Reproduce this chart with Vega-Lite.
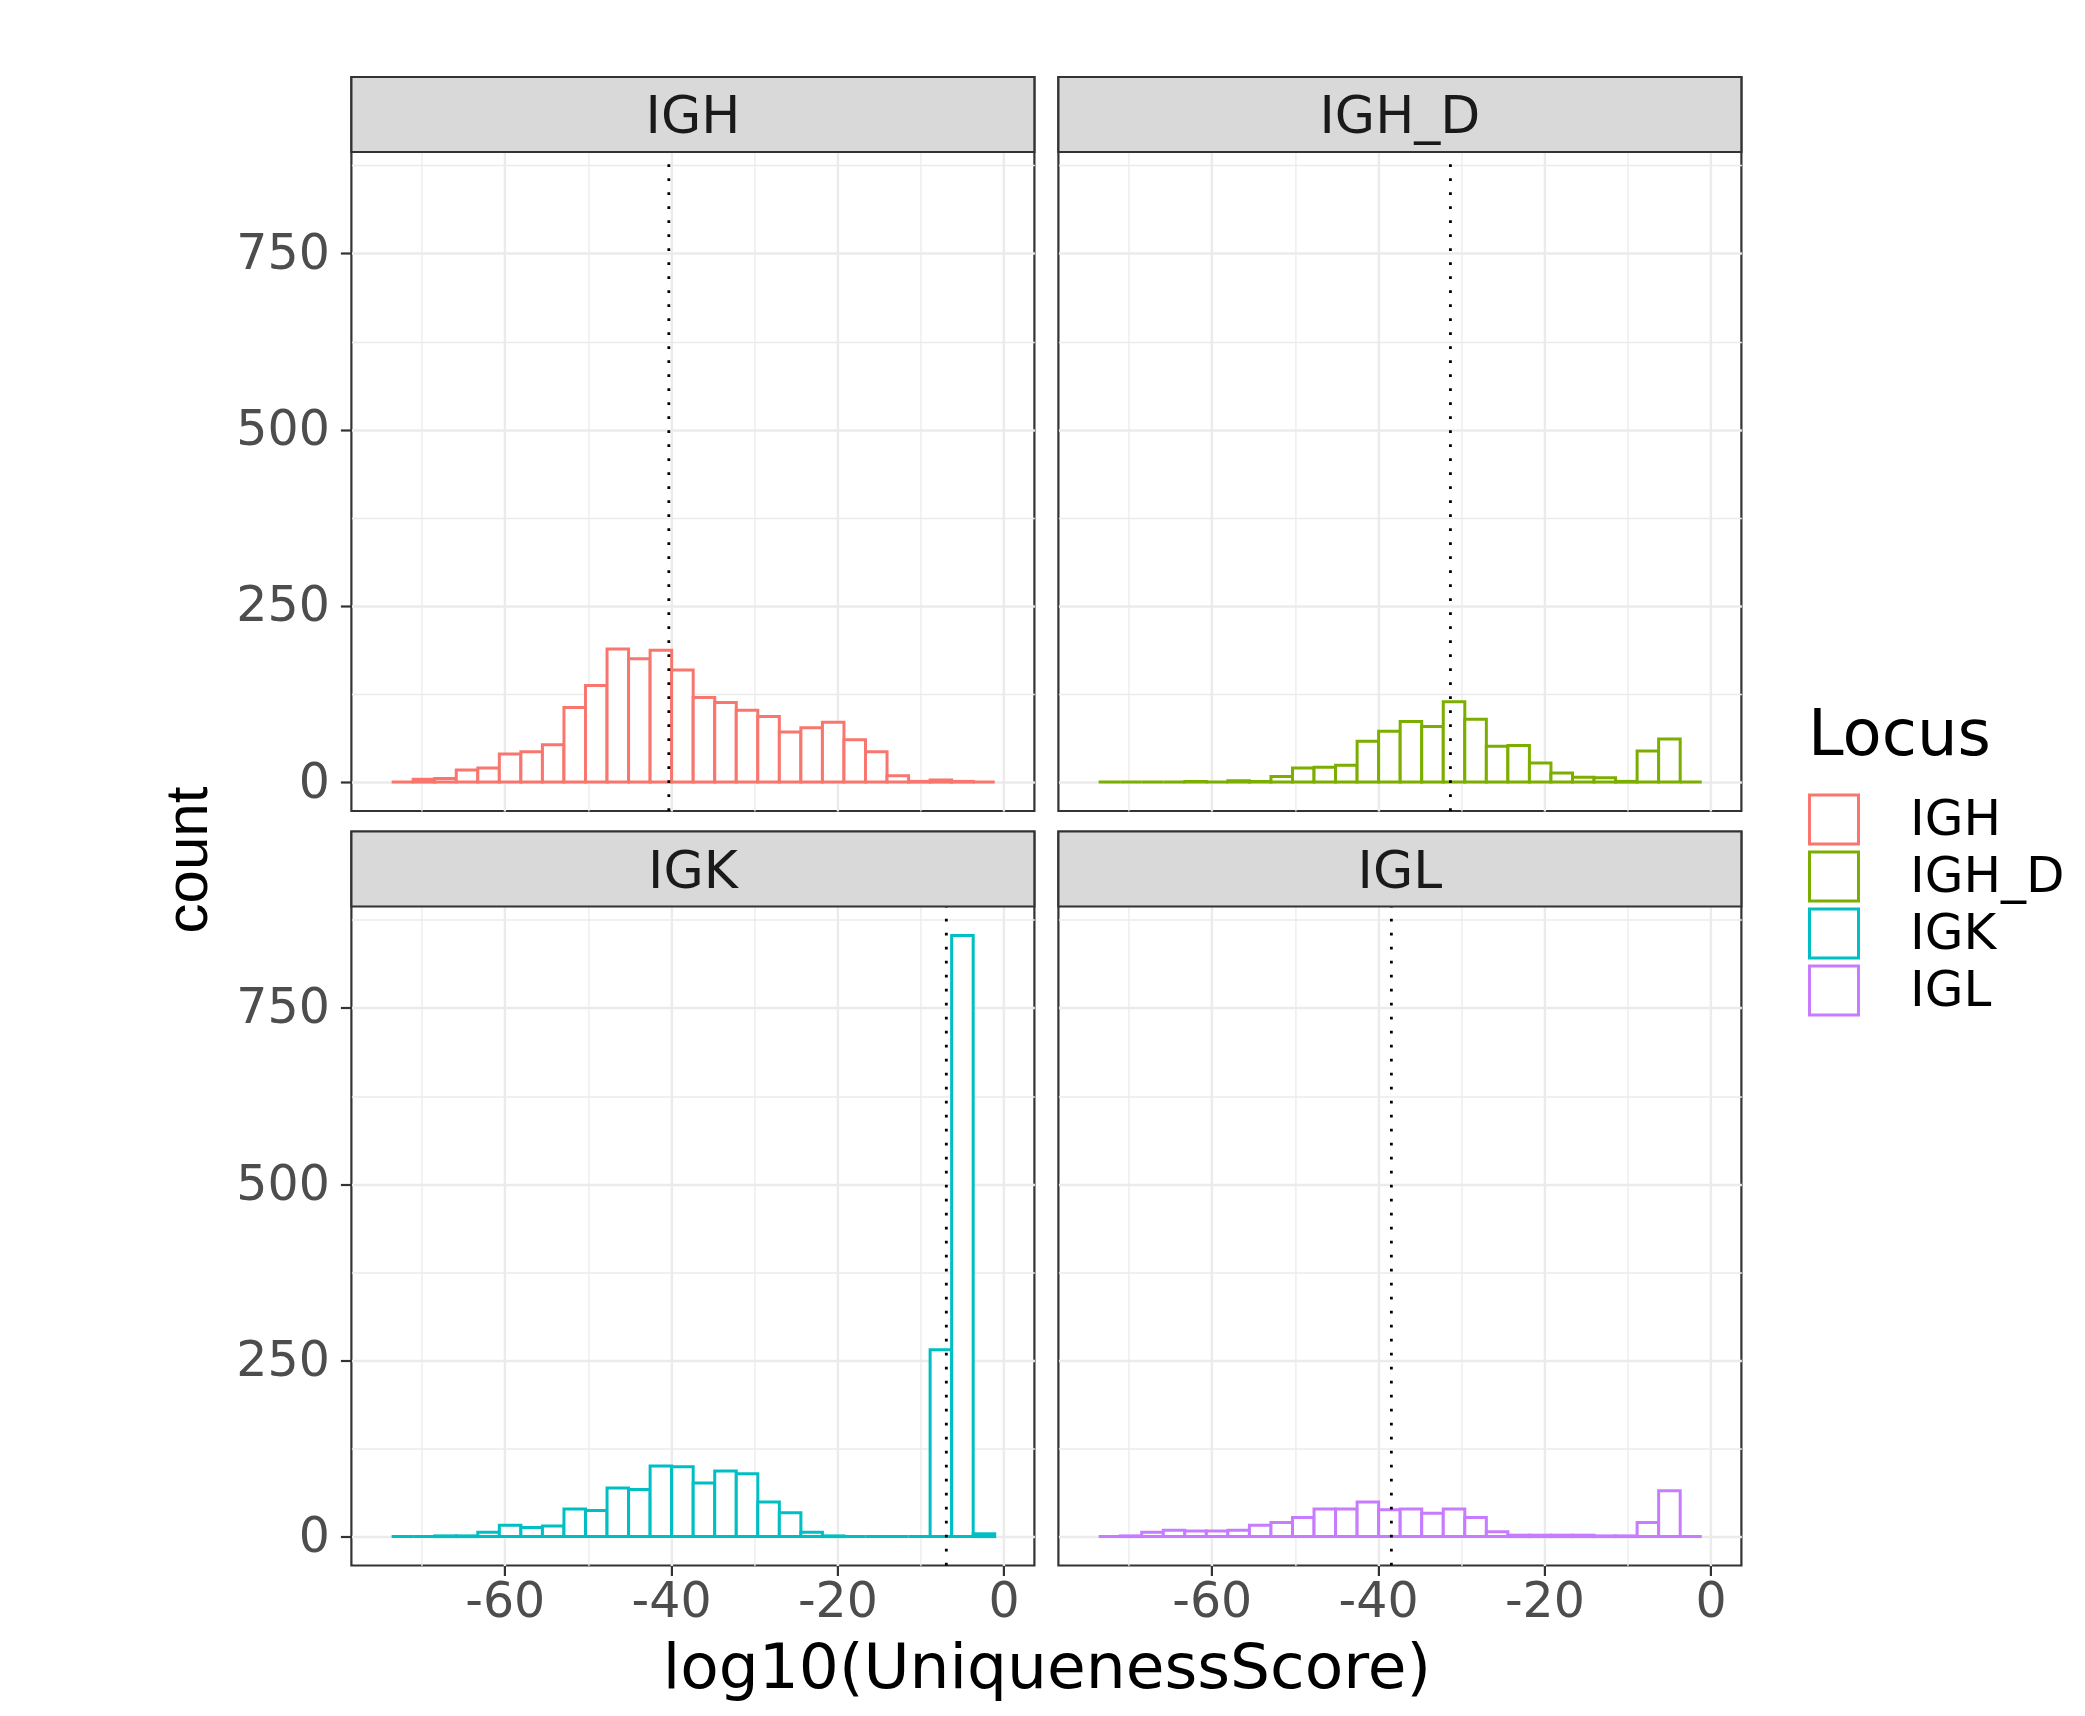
{
"$schema": "https://vega.github.io/schema/vega-lite/v6.json",
"padding": {"left": 158, "top": 74, "right": 0, "bottom": 12},
"background": "white",
"datasets": {
"hist": [
{"Locus":"IGH","start":-73.6,"end":-71.01,"count":0},{"Locus":"IGH","start":-71.01,"end":-68.42,"count":4},{"Locus":"IGH","start":-68.42,"end":-65.83,"count":5},{"Locus":"IGH","start":-65.83,"end":-63.24,"count":17},{"Locus":"IGH","start":-63.24,"end":-60.65,"count":20},{"Locus":"IGH","start":-60.65,"end":-58.06,"count":40},{"Locus":"IGH","start":-58.06,"end":-55.47,"count":43},{"Locus":"IGH","start":-55.47,"end":-52.88,"count":53},{"Locus":"IGH","start":-52.88,"end":-50.29,"count":106},{"Locus":"IGH","start":-50.29,"end":-47.7,"count":137},{"Locus":"IGH","start":-47.7,"end":-45.11,"count":189},{"Locus":"IGH","start":-45.11,"end":-42.52,"count":175},{"Locus":"IGH","start":-42.52,"end":-39.93,"count":187},{"Locus":"IGH","start":-39.93,"end":-37.34,"count":159},{"Locus":"IGH","start":-37.34,"end":-34.75,"count":120},{"Locus":"IGH","start":-34.75,"end":-32.16,"count":113},{"Locus":"IGH","start":-32.16,"end":-29.57,"count":102},{"Locus":"IGH","start":-29.57,"end":-26.98,"count":93},{"Locus":"IGH","start":-26.98,"end":-24.39,"count":71},{"Locus":"IGH","start":-24.39,"end":-21.8,"count":77},{"Locus":"IGH","start":-21.8,"end":-19.21,"count":85},{"Locus":"IGH","start":-19.21,"end":-16.62,"count":60},{"Locus":"IGH","start":-16.62,"end":-14.03,"count":43},{"Locus":"IGH","start":-14.03,"end":-11.44,"count":9},{"Locus":"IGH","start":-11.44,"end":-8.85,"count":1},{"Locus":"IGH","start":-8.85,"end":-6.26,"count":3},{"Locus":"IGH","start":-6.26,"end":-3.67,"count":1},{"Locus":"IGH","start":-3.67,"end":-1.08,"count":0},
{"Locus":"IGH_D","start":-73.6,"end":-71.01,"count":0},{"Locus":"IGH_D","start":-71.01,"end":-68.42,"count":0},{"Locus":"IGH_D","start":-68.42,"end":-65.83,"count":0},{"Locus":"IGH_D","start":-65.83,"end":-63.24,"count":0},{"Locus":"IGH_D","start":-63.24,"end":-60.65,"count":1},{"Locus":"IGH_D","start":-60.65,"end":-58.06,"count":0},{"Locus":"IGH_D","start":-58.06,"end":-55.47,"count":2},{"Locus":"IGH_D","start":-55.47,"end":-52.88,"count":1},{"Locus":"IGH_D","start":-52.88,"end":-50.29,"count":8},{"Locus":"IGH_D","start":-50.29,"end":-47.7,"count":20},{"Locus":"IGH_D","start":-47.7,"end":-45.11,"count":21},{"Locus":"IGH_D","start":-45.11,"end":-42.52,"count":24},{"Locus":"IGH_D","start":-42.52,"end":-39.93,"count":58},{"Locus":"IGH_D","start":-39.93,"end":-37.34,"count":72},{"Locus":"IGH_D","start":-37.34,"end":-34.75,"count":86},{"Locus":"IGH_D","start":-34.75,"end":-32.16,"count":79},{"Locus":"IGH_D","start":-32.16,"end":-29.57,"count":114},{"Locus":"IGH_D","start":-29.57,"end":-26.98,"count":89},{"Locus":"IGH_D","start":-26.98,"end":-24.39,"count":51},{"Locus":"IGH_D","start":-24.39,"end":-21.8,"count":52},{"Locus":"IGH_D","start":-21.8,"end":-19.21,"count":27},{"Locus":"IGH_D","start":-19.21,"end":-16.62,"count":13},{"Locus":"IGH_D","start":-16.62,"end":-14.03,"count":7},{"Locus":"IGH_D","start":-14.03,"end":-11.44,"count":6},{"Locus":"IGH_D","start":-11.44,"end":-8.85,"count":1},{"Locus":"IGH_D","start":-8.85,"end":-6.26,"count":44},{"Locus":"IGH_D","start":-6.26,"end":-3.67,"count":61},{"Locus":"IGH_D","start":-3.67,"end":-1.08,"count":0},
{"Locus":"IGK","start":-73.6,"end":-71.01,"count":0},{"Locus":"IGK","start":-71.01,"end":-68.42,"count":0},{"Locus":"IGK","start":-68.42,"end":-65.83,"count":1},{"Locus":"IGK","start":-65.83,"end":-63.24,"count":1},{"Locus":"IGK","start":-63.24,"end":-60.65,"count":6},{"Locus":"IGK","start":-60.65,"end":-58.06,"count":16},{"Locus":"IGK","start":-58.06,"end":-55.47,"count":13},{"Locus":"IGK","start":-55.47,"end":-52.88,"count":15},{"Locus":"IGK","start":-52.88,"end":-50.29,"count":39},{"Locus":"IGK","start":-50.29,"end":-47.7,"count":37},{"Locus":"IGK","start":-47.7,"end":-45.11,"count":69},{"Locus":"IGK","start":-45.11,"end":-42.52,"count":67},{"Locus":"IGK","start":-42.52,"end":-39.93,"count":100},{"Locus":"IGK","start":-39.93,"end":-37.34,"count":99},{"Locus":"IGK","start":-37.34,"end":-34.75,"count":76},{"Locus":"IGK","start":-34.75,"end":-32.16,"count":93},{"Locus":"IGK","start":-32.16,"end":-29.57,"count":89},{"Locus":"IGK","start":-29.57,"end":-26.98,"count":49},{"Locus":"IGK","start":-26.98,"end":-24.39,"count":34},{"Locus":"IGK","start":-24.39,"end":-21.8,"count":6},{"Locus":"IGK","start":-21.8,"end":-19.21,"count":1},{"Locus":"IGK","start":-19.21,"end":-16.62,"count":0},{"Locus":"IGK","start":-16.62,"end":-14.03,"count":0},{"Locus":"IGK","start":-14.03,"end":-11.44,"count":0},{"Locus":"IGK","start":-11.44,"end":-8.85,"count":0},{"Locus":"IGK","start":-8.85,"end":-6.26,"count":265},{"Locus":"IGK","start":-6.26,"end":-3.67,"count":853},{"Locus":"IGK","start":-3.67,"end":-1.08,"count":4},
{"Locus":"IGL","start":-73.6,"end":-71.01,"count":0},{"Locus":"IGL","start":-71.01,"end":-68.42,"count":1},{"Locus":"IGL","start":-68.42,"end":-65.83,"count":6},{"Locus":"IGL","start":-65.83,"end":-63.24,"count":9},{"Locus":"IGL","start":-63.24,"end":-60.65,"count":8},{"Locus":"IGL","start":-60.65,"end":-58.06,"count":8},{"Locus":"IGL","start":-58.06,"end":-55.47,"count":9},{"Locus":"IGL","start":-55.47,"end":-52.88,"count":16},{"Locus":"IGL","start":-52.88,"end":-50.29,"count":20},{"Locus":"IGL","start":-50.29,"end":-47.7,"count":27},{"Locus":"IGL","start":-47.7,"end":-45.11,"count":39},{"Locus":"IGL","start":-45.11,"end":-42.52,"count":39},{"Locus":"IGL","start":-42.52,"end":-39.93,"count":49},{"Locus":"IGL","start":-39.93,"end":-37.34,"count":38},{"Locus":"IGL","start":-37.34,"end":-34.75,"count":39},{"Locus":"IGL","start":-34.75,"end":-32.16,"count":33},{"Locus":"IGL","start":-32.16,"end":-29.57,"count":39},{"Locus":"IGL","start":-29.57,"end":-26.98,"count":27},{"Locus":"IGL","start":-26.98,"end":-24.39,"count":7},{"Locus":"IGL","start":-24.39,"end":-21.8,"count":2},{"Locus":"IGL","start":-21.8,"end":-19.21,"count":2},{"Locus":"IGL","start":-19.21,"end":-16.62,"count":2},{"Locus":"IGL","start":-16.62,"end":-14.03,"count":2},{"Locus":"IGL","start":-14.03,"end":-11.44,"count":1},{"Locus":"IGL","start":-11.44,"end":-8.85,"count":1},{"Locus":"IGL","start":-8.85,"end":-6.26,"count":20},{"Locus":"IGL","start":-6.26,"end":-3.67,"count":65},{"Locus":"IGL","start":-3.67,"end":-1.08,"count":0}
],
"vlines": [
{"Locus":"IGH","value":-40.27},{"Locus":"IGH_D","value":-31.3},{"Locus":"IGK","value":-6.9},{"Locus":"IGL","value":-38.4}
]
},
"config": {
"font": "DejaVu Sans",
"view": {"stroke": null},
"axis": {"labelFont": "DejaVu Sans", "labelFontSize": 49, "labelColor": "#4D4D4D", "tickColor": "#333333", "tickWidth": 2.2, "gridColor": "#EBEBEB", "domain": false, "labelOverlap": false, "labelFlush": false, "labelBound": false},
"legend": {"labelLimit": 400, "titleLimit": 400}
},
"spacing": 14.4,
"hconcat": [
{
"width": 1, "height": 1565,
"data": {"name": "vlines"},
"mark": {"type": "rule", "opacity": 0},
"encoding": {"y": {"field": "value", "type": "quantitative", "axis": {"title": "count", "labels": false, "ticks": false, "domain": false, "grid": false, "titleFont": "Liberation Sans", "titleFontSize": 60, "titleFontWeight": "normal", "titleColor": "black", "titlePadding": 0}}}
},
{
"spacing": 0,
"vconcat": [
{
"spacing": 14.5,
"vconcat": [
{
"spacing": 18,
"hconcat": [
{
"width": 683, "height": 734,
"view": {"stroke": "#333333", "strokeWidth": 2.2},
"layer": [
{"data": {"name": "hist"}, "transform": [{"filter": "datum.Locus === 'IGH'"}],
"mark": {"type": "rect", "fill": "white", "strokeWidth": 3},
"encoding": {
"x": {"field": "start", "type": "quantitative", "scale": {"domain": [-78.44, 3.69], "nice": false, "zero": false}, "axis": {"values": [-70,-60,-50,-40,-30,-20,-10,0], "title": null, "labels": false, "ticks": false, "gridWidth": {"condition": {"test": "datum.value % 20 === 0", "value": 2.4}, "value": 1.3}}},
"x2": {"field": "end"},
"y": {"field": "count", "type": "quantitative", "scale": {"domain": [-41, 1000.4], "nice": false, "zero": false}, "axis": {"values": [0,125,250,375,500,625,750,875], "title": null, "labelExpr": "datum.value % 250 === 0 ? datum.label : ''", "tickSize": 11, "labelPadding": 11, "tickOpacity": {"condition": {"test": "datum.value % 250 === 0", "value": 1}, "value": 0}, "gridWidth": {"condition": {"test": "datum.value % 250 === 0", "value": 2.4}, "value": 1.3}}},
"y2": {"datum": 0},
"stroke": {"field": "Locus", "type": "nominal", "scale": {"domain": ["IGH","IGH_D","IGK","IGL"], "range": ["#F8766D","#7CAE00","#00BFC4","#C77CFF"]}, "legend": {"title": "Locus", "orient": "none", "legendX": 1589, "legendY": 627, "padding": 0, "symbolType": "square", "symbolSize": 2401, "symbolStrokeWidth": 3, "symbolFillColor": "white", "labelFont": "DejaVu Sans", "labelFontSize": 50, "labelColor": "black", "labelOffset": 50, "labelLimit": 400, "titleLimit": 400, "titleFont": "DejaVu Sans", "titleFontSize": 64, "titleFontWeight": "normal", "titleColor": "black", "titlePadding": 23, "rowPadding": 0, "clipHeight": 57}}
}},
{"data": {"name": "vlines"}, "transform": [{"filter": "datum.Locus === 'IGH'"}],
"mark": {"type": "rule", "color": "black", "strokeWidth": 2.8, "strokeDash": [2.8, 11.2]},
"encoding": {"x": {"field": "value", "type": "quantitative"}, "y": {"datum": -41}, "y2": {"datum": 894}}},
{"data": {"name": "vlines"}, "transform": [{"filter": "datum.Locus === 'IGH'"}],
"mark": {"type": "rect", "fill": "#D9D9D9", "stroke": "#333333", "strokeWidth": 2.2},
"encoding": {"x": {"datum": -78.44}, "x2": {"datum": 3.69}, "y": {"datum": 894}, "y2": {"datum": 1000.4}}},
{"data": {"name": "vlines"}, "transform": [{"filter": "datum.Locus === 'IGH'"}],
"mark": {"type": "text", "font": "DejaVu Sans", "fontSize": 52, "color": "#1A1A1A", "baseline": "middle", "align": "center", "dy": 3},
"encoding": {"x": {"datum": -37.375}, "y": {"datum": 947.2}, "text": {"field": "Locus"}}}
]
},
{
"width": 683, "height": 734,
"view": {"stroke": "#333333", "strokeWidth": 2.2},
"layer": [
{"data": {"name": "hist"}, "transform": [{"filter": "datum.Locus === 'IGH_D'"}],
"mark": {"type": "rect", "fill": "white", "strokeWidth": 3},
"encoding": {
"x": {"field": "start", "type": "quantitative", "scale": {"domain": [-78.44, 3.69], "nice": false, "zero": false}, "axis": {"values": [-70,-60,-50,-40,-30,-20,-10,0], "title": null, "labels": false, "ticks": false, "gridWidth": {"condition": {"test": "datum.value % 20 === 0", "value": 2.4}, "value": 1.3}}},
"x2": {"field": "end"},
"y": {"field": "count", "type": "quantitative", "scale": {"domain": [-41, 1000.4], "nice": false, "zero": false}, "axis": {"values": [0,125,250,375,500,625,750,875], "title": null, "labels": false, "ticks": false, "gridWidth": {"condition": {"test": "datum.value % 250 === 0", "value": 2.4}, "value": 1.3}}},
"y2": {"datum": 0},
"stroke": {"field": "Locus", "type": "nominal", "scale": {"domain": ["IGH","IGH_D","IGK","IGL"], "range": ["#F8766D","#7CAE00","#00BFC4","#C77CFF"]}, "legend": {"title": "Locus", "orient": "none", "legendX": 1589, "legendY": 627, "padding": 0, "symbolType": "square", "symbolSize": 2401, "symbolStrokeWidth": 3, "symbolFillColor": "white", "labelFont": "DejaVu Sans", "labelFontSize": 50, "labelColor": "black", "labelOffset": 50, "labelLimit": 400, "titleLimit": 400, "titleFont": "DejaVu Sans", "titleFontSize": 64, "titleFontWeight": "normal", "titleColor": "black", "titlePadding": 23, "rowPadding": 0, "clipHeight": 57}}
}},
{"data": {"name": "vlines"}, "transform": [{"filter": "datum.Locus === 'IGH_D'"}],
"mark": {"type": "rule", "color": "black", "strokeWidth": 2.8, "strokeDash": [2.8, 11.2]},
"encoding": {"x": {"field": "value", "type": "quantitative"}, "y": {"datum": -41}, "y2": {"datum": 894}}},
{"data": {"name": "vlines"}, "transform": [{"filter": "datum.Locus === 'IGH_D'"}],
"mark": {"type": "rect", "fill": "#D9D9D9", "stroke": "#333333", "strokeWidth": 2.2},
"encoding": {"x": {"datum": -78.44}, "x2": {"datum": 3.69}, "y": {"datum": 894}, "y2": {"datum": 1000.4}}},
{"data": {"name": "vlines"}, "transform": [{"filter": "datum.Locus === 'IGH_D'"}],
"mark": {"type": "text", "font": "DejaVu Sans", "fontSize": 52, "color": "#1A1A1A", "baseline": "middle", "align": "center", "dy": 3},
"encoding": {"x": {"datum": -37.375}, "y": {"datum": 947.2}, "text": {"field": "Locus"}}}
]
}
]
},
{
"spacing": 18,
"hconcat": [
{
"width": 683, "height": 734,
"view": {"stroke": "#333333", "strokeWidth": 2.2},
"layer": [
{"data": {"name": "hist"}, "transform": [{"filter": "datum.Locus === 'IGK'"}],
"mark": {"type": "rect", "fill": "white", "strokeWidth": 3},
"encoding": {
"x": {"field": "start", "type": "quantitative", "scale": {"domain": [-78.44, 3.69], "nice": false, "zero": false}, "axis": {"values": [-70,-60,-50,-40,-30,-20,-10,0], "title": null, "labelExpr": "datum.value % 20 === 0 ? toString(datum.value) : ''", "tickSize": 10, "labelPadding": 2, "tickOpacity": {"condition": {"test": "datum.value % 20 === 0", "value": 1}, "value": 0}, "gridWidth": {"condition": {"test": "datum.value % 20 === 0", "value": 2.4}, "value": 1.3}}},
"x2": {"field": "end"},
"y": {"field": "count", "type": "quantitative", "scale": {"domain": [-41, 1000.4], "nice": false, "zero": false}, "axis": {"values": [0,125,250,375,500,625,750,875], "title": null, "labelExpr": "datum.value % 250 === 0 ? datum.label : ''", "tickSize": 11, "labelPadding": 11, "tickOpacity": {"condition": {"test": "datum.value % 250 === 0", "value": 1}, "value": 0}, "gridWidth": {"condition": {"test": "datum.value % 250 === 0", "value": 2.4}, "value": 1.3}}},
"y2": {"datum": 0},
"stroke": {"field": "Locus", "type": "nominal", "scale": {"domain": ["IGH","IGH_D","IGK","IGL"], "range": ["#F8766D","#7CAE00","#00BFC4","#C77CFF"]}, "legend": {"title": "Locus", "orient": "none", "legendX": 1589, "legendY": 627, "padding": 0, "symbolType": "square", "symbolSize": 2401, "symbolStrokeWidth": 3, "symbolFillColor": "white", "labelFont": "DejaVu Sans", "labelFontSize": 50, "labelColor": "black", "labelOffset": 50, "labelLimit": 400, "titleLimit": 400, "titleFont": "DejaVu Sans", "titleFontSize": 64, "titleFontWeight": "normal", "titleColor": "black", "titlePadding": 23, "rowPadding": 0, "clipHeight": 57}}
}},
{"data": {"name": "vlines"}, "transform": [{"filter": "datum.Locus === 'IGK'"}],
"mark": {"type": "rule", "color": "black", "strokeWidth": 2.8, "strokeDash": [2.8, 11.2]},
"encoding": {"x": {"field": "value", "type": "quantitative"}, "y": {"datum": -41}, "y2": {"datum": 894}}},
{"data": {"name": "vlines"}, "transform": [{"filter": "datum.Locus === 'IGK'"}],
"mark": {"type": "rect", "fill": "#D9D9D9", "stroke": "#333333", "strokeWidth": 2.2},
"encoding": {"x": {"datum": -78.44}, "x2": {"datum": 3.69}, "y": {"datum": 894}, "y2": {"datum": 1000.4}}},
{"data": {"name": "vlines"}, "transform": [{"filter": "datum.Locus === 'IGK'"}],
"mark": {"type": "text", "font": "DejaVu Sans", "fontSize": 52, "color": "#1A1A1A", "baseline": "middle", "align": "center", "dy": 3},
"encoding": {"x": {"datum": -37.375}, "y": {"datum": 947.2}, "text": {"field": "Locus"}}}
]
},
{
"width": 683, "height": 734,
"view": {"stroke": "#333333", "strokeWidth": 2.2},
"layer": [
{"data": {"name": "hist"}, "transform": [{"filter": "datum.Locus === 'IGL'"}],
"mark": {"type": "rect", "fill": "white", "strokeWidth": 3},
"encoding": {
"x": {"field": "start", "type": "quantitative", "scale": {"domain": [-78.44, 3.69], "nice": false, "zero": false}, "axis": {"values": [-70,-60,-50,-40,-30,-20,-10,0], "title": null, "labelExpr": "datum.value % 20 === 0 ? toString(datum.value) : ''", "tickSize": 10, "labelPadding": 2, "tickOpacity": {"condition": {"test": "datum.value % 20 === 0", "value": 1}, "value": 0}, "gridWidth": {"condition": {"test": "datum.value % 20 === 0", "value": 2.4}, "value": 1.3}}},
"x2": {"field": "end"},
"y": {"field": "count", "type": "quantitative", "scale": {"domain": [-41, 1000.4], "nice": false, "zero": false}, "axis": {"values": [0,125,250,375,500,625,750,875], "title": null, "labels": false, "ticks": false, "gridWidth": {"condition": {"test": "datum.value % 250 === 0", "value": 2.4}, "value": 1.3}}},
"y2": {"datum": 0},
"stroke": {"field": "Locus", "type": "nominal", "scale": {"domain": ["IGH","IGH_D","IGK","IGL"], "range": ["#F8766D","#7CAE00","#00BFC4","#C77CFF"]}, "legend": {"title": "Locus", "orient": "none", "legendX": 1589, "legendY": 627, "padding": 0, "symbolType": "square", "symbolSize": 2401, "symbolStrokeWidth": 3, "symbolFillColor": "white", "labelFont": "DejaVu Sans", "labelFontSize": 50, "labelColor": "black", "labelOffset": 50, "labelLimit": 400, "titleLimit": 400, "titleFont": "DejaVu Sans", "titleFontSize": 64, "titleFontWeight": "normal", "titleColor": "black", "titlePadding": 23, "rowPadding": 0, "clipHeight": 57}}
}},
{"data": {"name": "vlines"}, "transform": [{"filter": "datum.Locus === 'IGL'"}],
"mark": {"type": "rule", "color": "black", "strokeWidth": 2.8, "strokeDash": [2.8, 11.2]},
"encoding": {"x": {"field": "value", "type": "quantitative"}, "y": {"datum": -41}, "y2": {"datum": 894}}},
{"data": {"name": "vlines"}, "transform": [{"filter": "datum.Locus === 'IGL'"}],
"mark": {"type": "rect", "fill": "#D9D9D9", "stroke": "#333333", "strokeWidth": 2.2},
"encoding": {"x": {"datum": -78.44}, "x2": {"datum": 3.69}, "y": {"datum": 894}, "y2": {"datum": 1000.4}}},
{"data": {"name": "vlines"}, "transform": [{"filter": "datum.Locus === 'IGL'"}],
"mark": {"type": "text", "font": "DejaVu Sans", "fontSize": 52, "color": "#1A1A1A", "baseline": "middle", "align": "center", "dy": 3},
"encoding": {"x": {"datum": -37.375}, "y": {"datum": 947.2}, "text": {"field": "Locus"}}}
]
}
]
}
]
},
{
"width": 1390, "height": 1,
"data": {"name": "vlines"},
"mark": {"type": "rule", "opacity": 0},
"encoding": {"x": {"field": "value", "type": "quantitative", "axis": {"title": "log10(UniquenessScore)", "labels": false, "ticks": false, "domain": false, "grid": false, "titleFont": "DejaVu Sans", "titleFontSize": 63, "titleFontWeight": "normal", "titleColor": "black", "titlePadding": 8}}}
}
]
}
]
}
